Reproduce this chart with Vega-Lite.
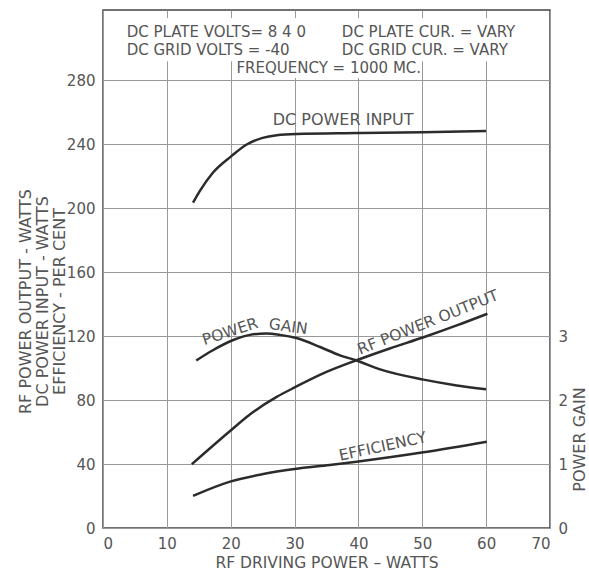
{
  "$schema": "https://vega.github.io/schema/vega-lite/v6.json",
  "width": 447,
  "height": 518,
  "autosize": "none",
  "padding": {"left": 103, "top": 10, "right": 39, "bottom": 43},
  "background": "white",
  "config": {
    "view": {"stroke": "#444", "strokeWidth": 1.5},
    "font": "DejaVu Sans",
    "axis": {
      "labelFont": "DejaVu Sans", "titleFont": "DejaVu Sans",
      "labelColor": "#555", "titleColor": "#555",
      "labelFontSize": 15, "titleFontSize": 15, "titleFontWeight": "normal",
      "domain": false, "ticks": false,
      "gridColor": "#999", "gridWidth": 1, "gridOpacity": 1
    },
    "text": {"font": "DejaVu Sans", "fill": "#555", "fontSize": 15}
  },
  "datasets": {
    "main": [
      {"series": "DC Power Input", "x": 14.1, "v": 203.5},
      {"series": "DC Power Input", "x": 15.2, "v": 211.0},
      {"series": "DC Power Input", "x": 17.2, "v": 222.2},
      {"series": "DC Power Input", "x": 20.1, "v": 232.6},
      {"series": "DC Power Input", "x": 22.5, "v": 239.9},
      {"series": "DC Power Input", "x": 25.0, "v": 244.0},
      {"series": "DC Power Input", "x": 27.2, "v": 245.7},
      {"series": "DC Power Input", "x": 30.3, "v": 246.5},
      {"series": "DC Power Input", "x": 40.0, "v": 247.0},
      {"series": "DC Power Input", "x": 50.0, "v": 247.5},
      {"series": "DC Power Input", "x": 60.0, "v": 248.3},
      {"series": "RF Power Output", "x": 13.9, "v": 39.9},
      {"series": "RF Power Output", "x": 19.9, "v": 60.7},
      {"series": "RF Power Output", "x": 23.0, "v": 71.0},
      {"series": "RF Power Output", "x": 27.2, "v": 82.0},
      {"series": "RF Power Output", "x": 30.0, "v": 87.9},
      {"series": "RF Power Output", "x": 35.0, "v": 97.6},
      {"series": "RF Power Output", "x": 39.7, "v": 104.9},
      {"series": "RF Power Output", "x": 44.9, "v": 112.3},
      {"series": "RF Power Output", "x": 50.2, "v": 119.3},
      {"series": "RF Power Output", "x": 55.4, "v": 126.7},
      {"series": "RF Power Output", "x": 60.2, "v": 134.0},
      {"series": "Efficiency", "x": 14.1, "v": 20.1},
      {"series": "Efficiency", "x": 19.9, "v": 29.0},
      {"series": "Efficiency", "x": 25.1, "v": 33.8},
      {"series": "Efficiency", "x": 30.0, "v": 36.9},
      {"series": "Efficiency", "x": 35.5, "v": 39.4},
      {"series": "Efficiency", "x": 39.7, "v": 41.5},
      {"series": "Efficiency", "x": 50.2, "v": 47.4},
      {"series": "Efficiency", "x": 60.1, "v": 54.0}
    ],
    "gain": [
      {"x": 14.6, "gain": 2.62},
      {"x": 17.2, "gain": 2.78},
      {"x": 20.4, "gain": 2.94},
      {"x": 23.0, "gain": 3.02},
      {"x": 25.6, "gain": 3.04},
      {"x": 27.7, "gain": 3.02},
      {"x": 30.3, "gain": 2.97},
      {"x": 34.0, "gain": 2.83},
      {"x": 37.1, "gain": 2.70},
      {"x": 39.7, "gain": 2.62},
      {"x": 43.4, "gain": 2.48},
      {"x": 50.2, "gain": 2.32},
      {"x": 55.4, "gain": 2.23},
      {"x": 60.0, "gain": 2.17}
    ],
    "one": [{}]
  },
  "layer": [
    {
      "layer": [
        {
          "data": {"name": "main"},
          "mark": {"type": "line", "interpolate": "monotone", "stroke": "#2b2b2b", "strokeWidth": 2.5},
          "encoding": {
            "x": {"field": "x", "type": "quantitative",
              "scale": {"domain": [0, 70], "nice": false, "zero": false},
              "axis": {"values": [0, 10, 20, 30, 40, 50, 60, 70], "grid": true, "labelPadding": 8,
                "title": "RF DRIVING POWER – WATTS", "titlePadding": 4, "titleFontSize": 15.5}},
            "y": {"field": "v", "type": "quantitative",
              "scale": {"domain": [0, 324], "nice": false, "zero": false},
              "axis": {"values": [0, 40, 80, 120, 160, 200, 240, 280], "grid": true, "labelPadding": 8,
                "title": ["RF POWER OUTPUT - WATTS", "DC POWER INPUT - WATTS", "EFFICIENCY - PER CENT"],
                "titleFontSize": 16, "titleLineHeight": 17, "titleAngle": -90,
                "titleX": -78, "titleY": 291, "titleAlign": "center", "titleBaseline": "middle"}},
            "detail": {"field": "series", "type": "nominal"}
          }
        },
        {
          "data": {"name": "one"},
          "mark": {"type": "rect", "fill": "white"},
          "encoding": {
            "x": {"datum": 0.6, "type": "quantitative"}, "x2": {"datum": 69.4},
            "y": {"datum": 292, "type": "quantitative"}, "y2": {"datum": 319}
          }
        },
        {
          "data": {"name": "one"},
          "mark": {"type": "rect", "fill": "white"},
          "encoding": {
            "x": {"datum": 21, "type": "quantitative"}, "x2": {"datum": 49},
            "y": {"datum": 281.5, "type": "quantitative"}, "y2": {"datum": 292}
          }
        },
        {
          "data": {"name": "one"},
          "mark": {"type": "text", "align": "left", "baseline": "middle"},
          "encoding": {"x": {"datum": 3.7, "type": "quantitative"}, "y": {"datum": 310, "type": "quantitative"}, "text": {"value": "DC PLATE VOLTS= 8 4 0"}}
        },
        {
          "data": {"name": "one"},
          "mark": {"type": "text", "align": "left", "baseline": "middle"},
          "encoding": {"x": {"datum": 37.4, "type": "quantitative"}, "y": {"datum": 310, "type": "quantitative"}, "text": {"value": "DC PLATE CUR. = VARY"}}
        },
        {
          "data": {"name": "one"},
          "mark": {"type": "text", "align": "left", "baseline": "middle"},
          "encoding": {"x": {"datum": 3.7, "type": "quantitative"}, "y": {"datum": 299, "type": "quantitative"}, "text": {"value": "DC GRID VOLTS = -40"}}
        },
        {
          "data": {"name": "one"},
          "mark": {"type": "text", "align": "left", "baseline": "middle"},
          "encoding": {"x": {"datum": 37.4, "type": "quantitative"}, "y": {"datum": 299, "type": "quantitative"}, "text": {"value": "DC GRID CUR. = VARY"}}
        },
        {
          "data": {"name": "one"},
          "mark": {"type": "text", "align": "left", "baseline": "middle"},
          "encoding": {"x": {"datum": 20.9, "type": "quantitative"}, "y": {"datum": 287.5, "type": "quantitative"}, "text": {"value": "FREQUENCY = 1000 MC."}}
        },
        {
          "data": {"name": "one"},
          "mark": {"type": "text", "align": "center", "baseline": "middle", "fontSize": 16},
          "encoding": {"x": {"datum": 37.6, "type": "quantitative"}, "y": {"datum": 255.2, "type": "quantitative"}, "text": {"value": "DC POWER INPUT"}}
        },
        {
          "data": {"name": "one"},
          "mark": {"type": "text", "align": "center", "baseline": "middle", "fontSize": 15.5, "angle": -18},
          "encoding": {"x": {"datum": 19.9, "type": "quantitative"}, "y": {"datum": 122.9, "type": "quantitative"}, "text": {"value": "POWER"}}
        },
        {
          "data": {"name": "one"},
          "mark": {"type": "text", "align": "center", "baseline": "middle", "fontSize": 15.5, "angle": 8},
          "encoding": {"x": {"datum": 29.0, "type": "quantitative"}, "y": {"datum": 126, "type": "quantitative"}, "text": {"value": "GAIN"}}
        },
        {
          "data": {"name": "one"},
          "mark": {"type": "text", "align": "center", "baseline": "middle", "fontSize": 15.5, "angle": -21.7},
          "encoding": {"x": {"datum": 50.9, "type": "quantitative"}, "y": {"datum": 128.6, "type": "quantitative"}, "text": {"value": "RF POWER OUTPUT"}}
        },
        {
          "data": {"name": "one"},
          "mark": {"type": "text", "align": "center", "baseline": "middle", "fontSize": 15.5, "angle": -12.3},
          "encoding": {"x": {"datum": 43.8, "type": "quantitative"}, "y": {"datum": 51.0, "type": "quantitative"}, "text": {"value": "EFFICIENCY"}}
        }
      ]
    },
    {
      "data": {"name": "gain"},
      "mark": {"type": "line", "interpolate": "monotone", "stroke": "#2b2b2b", "strokeWidth": 2.5},
      "encoding": {
        "x": {"field": "x", "type": "quantitative"},
        "y": {"field": "gain", "type": "quantitative",
          "scale": {"domain": [0, 8.1], "nice": false, "zero": false},
          "axis": {"orient": "right", "values": [0, 1, 2, 3], "grid": false, "labelPadding": 8,
            "title": "POWER GAIN", "titleAngle": -90, "titleX": 29, "titleY": 429,
            "titleAlign": "center", "titleBaseline": "middle", "titleFontSize": 16}}
      }
    }
  ],
  "resolve": {"scale": {"y": "independent"}}
}
